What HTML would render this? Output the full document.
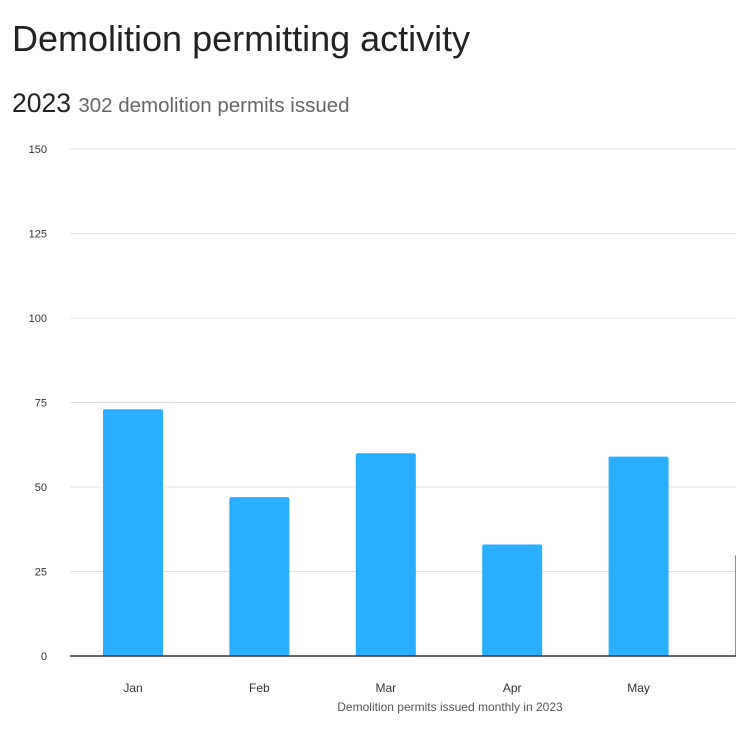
<!DOCTYPE html>
<html><head><meta charset="utf-8"><style>
body{margin:0;width:736px;height:734px;overflow:hidden;background:#fff;font-family:"Liberation Sans",sans-serif;}
h1{position:absolute;left:12px;top:18px;margin:0;font-size:36px;font-weight:normal;color:#222;}
.sub{position:absolute;left:12px;top:88px;font-size:26.5px;color:#222;}
.sub span{font-size:20.5px;color:#666;}
svg{position:absolute;left:0;top:0;}
</style></head><body>
<h1>Demolition permitting activity</h1>
<div class="sub">2023 <span>302 demolition permits issued</span></div>
<svg id="c" width="736" height="734"></svg>
<script>
const categories=["Jan","Feb","Mar","Apr","May","Jun"];
const values=[73,47,60,33,59,30];
const ticks=[0,25,50,75,100,125,150];
const svg=document.getElementById('c');
const NS="http://www.w3.org/2000/svg";
const y0=656,yTop=149,maxV=150;
const y=v=>y0-(v/maxV)*(y0-yTop);
const x=i=>133+i*126.4;
function mk(t,a){const e=document.createElementNS(NS,t);for(const k in a)e.setAttribute(k,a[k]);svg.appendChild(e);return e;}
ticks.forEach(t=>{
 if(t>0){const l=mk('line',{x1:70,x2:736,y1:y(t),y2:y(t),stroke:'#e0e0e0','stroke-width':1});
 
 }
 const tx=mk('text',{x:47,y:y(t)+4,'text-anchor':'end','font-size':11,fill:'#333'});
 tx.textContent=t;
 
 
});
categories.forEach((c,i)=>{
 const r=mk('path',{d:`M${x(i)-30},${y0} V${y(values[i])+2} Q${x(i)-30},${y(values[i])} ${x(i)-28},${y(values[i])} H${x(i)+28} Q${x(i)+30},${y(values[i])} ${x(i)+30},${y(values[i])+2} V${y0} Z`,fill:'#2aaeff'});
 
 
 const t=mk('text',{x:x(i),y:692,'text-anchor':'middle','font-size':12,fill:'#333'});
 t.textContent=c;
 
 
});
const ax=mk('line',{x1:70,x2:736,y1:y0,y2:y0,stroke:'#333','stroke-width':1.5});


const at=mk('text',{x:450,y:711,'text-anchor':'middle','font-size':12,fill:'#555'});
at.textContent="Demolition permits issued monthly in 2023";


</script>
</body></html>
